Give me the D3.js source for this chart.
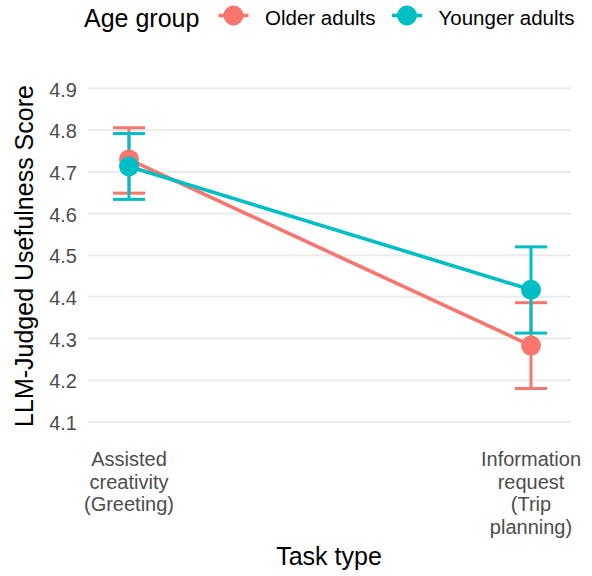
<!DOCTYPE html>
<html><head><meta charset="utf-8">
<script src="https://cdn.jsdelivr.net/npm/d3@7"></script>
<style>body{margin:0;background:#fff;} text{font-family:"Liberation Sans",Arial,sans-serif;}</style>
</head><body>
<svg id="c" width="592" height="576"></svg>
<script>
const categories = ["Assisted creativity (Greeting)", "Information request (Trip planning)"];
const categoryLines = [["Assisted", "creativity", "(Greeting)"], ["Information", "request", "(Trip", "planning)"]];
const groups = ["Older adults", "Younger adults"];
const colors = ["#F8766D", "#00BFC4"];
const olderMean = [4.730, 4.283];
const olderLow = [4.649, 4.180];
const olderHigh = [4.806, 4.386];
const youngerMean = [4.713, 4.417];
const youngerLow = [4.634, 4.313];
const youngerHigh = [4.792, 4.520];
const yTicks = [4.1, 4.2, 4.3, 4.4, 4.5, 4.6, 4.7, 4.8, 4.9];

const series = [
  {name: groups[0], color: colors[0], mean: olderMean, low: olderLow, high: olderHigh},
  {name: groups[1], color: colors[1], mean: youngerMean, low: youngerLow, high: youngerHigh}
];

const svg = d3.select("#c");
const left = 88, right = 571;
const x = d3.scalePoint().domain(categories).range([129, 531]);
const y = d3.scaleLinear().domain([4.1, 4.9]).range([421.8, 88.6]);

// grid
svg.append("g").selectAll("line").data(yTicks).join("line")
  .attr("x1", left).attr("x2", right)
  .attr("y1", d => y(d)).attr("y2", d => y(d))
  .attr("stroke", "#EBEBEB").attr("stroke-width", 2);

// y axis labels
const yAxis = d3.axisLeft(y).tickValues(yTicks).tickFormat(d3.format(".1f")).tickSize(0).tickPadding(11);
const ya = svg.append("g").attr("transform", `translate(${left},0)`).call(yAxis);
ya.select(".domain").remove();
ya.selectAll("text").attr("font-size", 20).attr("fill", "#4D4D4D")
  .attr("font-family", "Liberation Sans, Arial, sans-serif").attr("dy", "0.38em");

// x labels
const xg = svg.append("g");
categories.forEach((c, i) => {
  const t = xg.append("text").attr("x", x(c)).attr("y", 466).attr("text-anchor", "middle")
    .attr("font-size", 20).attr("fill", "#4D4D4D");
  categoryLines[i].forEach((ln, j) => {
    t.append("tspan").attr("x", x(c)).attr("dy", j === 0 ? 0 : 22.6).text(ln);
  });
});

// axis titles
svg.append("text").attr("x", 329).attr("y", 565).attr("text-anchor", "middle")
  .attr("font-size", 25).attr("fill", "#000").text("Task type");
svg.append("text").attr("transform", "translate(33,256) rotate(-90)").attr("text-anchor", "middle")
  .attr("font-size", 25).attr("fill", "#000").text("LLM-Judged Usefulness Score");

// error bars
const capW = 16;
series.forEach(s => {
  const g = svg.append("g").attr("stroke", s.color).attr("stroke-width", 3).attr("fill", "none");
  categories.forEach((c, i) => {
    const cx = x(c);
    g.append("line").attr("x1", cx).attr("x2", cx).attr("y1", y(s.low[i])).attr("y2", y(s.high[i]));
    g.append("line").attr("x1", cx - capW).attr("x2", cx + capW).attr("y1", y(s.low[i])).attr("y2", y(s.low[i]));
    g.append("line").attr("x1", cx - capW).attr("x2", cx + capW).attr("y1", y(s.high[i])).attr("y2", y(s.high[i]));
  });
});

// lines
const lineGen = d3.line().x((d, i) => x(categories[i])).y(d => y(d));
series.forEach(s => {
  svg.append("path").datum(s.mean).attr("d", lineGen)
    .attr("stroke", s.color).attr("stroke-width", 3.6).attr("fill", "none");
});

// points
series.forEach(s => {
  svg.append("g").selectAll("circle").data(s.mean).join("circle")
    .attr("cx", (d, i) => x(categories[i])).attr("cy", d => y(d)).attr("r", 10)
    .attr("fill", s.color);
});

// legend
const lg = svg.append("g");
lg.append("text").attr("x", 84).attr("y", 27).attr("font-size", 25).attr("fill", "#000").text("Age group");
const keyX = [233.5, 407];
series.forEach((s, i) => {
  lg.append("line").attr("x1", keyX[i] - 15).attr("x2", keyX[i] + 15).attr("y1", 15.5).attr("y2", 15.5)
    .attr("stroke", s.color).attr("stroke-width", 3.6);
  lg.append("circle").attr("cx", keyX[i]).attr("cy", 15.5).attr("r", 10).attr("fill", s.color);
  lg.append("text").attr("x", keyX[i] + 31.5).attr("y", 25).attr("font-size", 20.5).attr("fill", "#000").text(s.name);
});
</script>
</body></html>
